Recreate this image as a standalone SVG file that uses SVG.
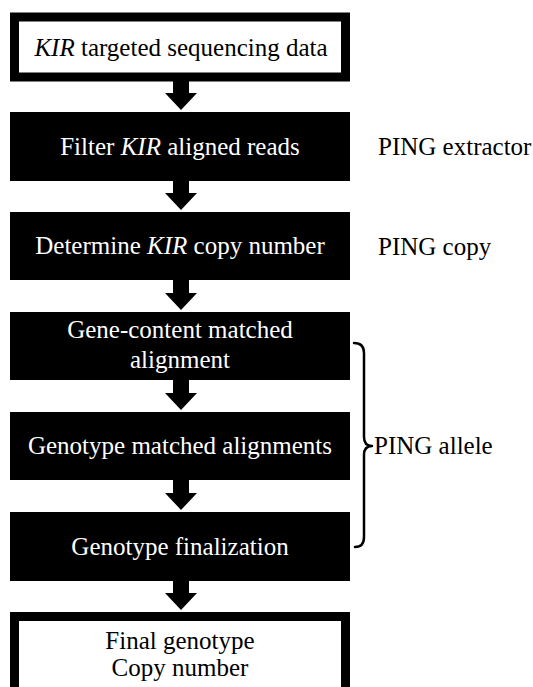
<svg xmlns="http://www.w3.org/2000/svg" width="533" height="687" viewBox="0 0 533 687">
<style>
text{font-size:25px}
.lt{fill:#fff;text-anchor:middle}
.dt{fill:#000;text-anchor:middle}
.side{fill:#000}
.blk{fill:#000}
.wbox{fill:#fff;stroke:#000;stroke-width:9}
.arr{fill:#000}
.brace{fill:none;stroke:#000;stroke-width:2.5;stroke-linecap:round;stroke-linejoin:round}
.it{font-style:italic}
</style>
<rect width="533" height="687" fill="#fff"/>
<g id="n1"><rect class="wbox" x="14.5" y="17" width="331" height="60"/><text class="dt" x="181" y="56" font-family="Liberation Serif"><tspan class="it">KIR</tspan> targeted sequencing data</text></g>
<g id="n2"><rect class="blk" x="10" y="112" width="340" height="69"/><text class="lt" x="180" y="155" font-family="Liberation Serif">Filter <tspan class="it">KIR</tspan> aligned reads</text></g>
<g id="n3"><rect class="blk" x="10" y="212" width="340" height="68"/><text class="lt" x="180" y="254" font-family="Liberation Serif">Determine <tspan class="it">KIR</tspan> copy number</text></g>
<g id="n4"><rect class="blk" x="10" y="312" width="340" height="68"/><text class="lt" x="180" y="338" font-family="Liberation Serif">Gene-content matched</text><text class="lt" x="180" y="368" font-family="Liberation Serif">alignment</text></g>
<g id="n5"><rect class="blk" x="10" y="412" width="340" height="68"/><text class="lt" x="180" y="454" font-family="Liberation Serif">Genotype matched alignments</text></g>
<g id="n6"><rect class="blk" x="10" y="512" width="340" height="69"/><text class="lt" x="180" y="555" font-family="Liberation Serif">Genotype finalization</text></g>
<g id="n7"><rect class="wbox" x="14.5" y="616.5" width="331" height="75"/><text class="dt" x="180" y="649" font-family="Liberation Serif">Final genotype</text><text class="dt" x="180" y="676" font-family="Liberation Serif">Copy number</text></g>
<g id="connectors">
<polygon class="arr" points="173,81 189,81 189,93 197,93 181,110 165,93 173,93"/>
<polygon class="arr" points="173,181 189,181 189,193 197,193 181,210 165,193 173,193"/>
<polygon class="arr" points="173,280 189,280 189,293 197,293 181,310 165,293 173,293"/>
<polygon class="arr" points="173,380 189,380 189,393 197,393 181,410 165,393 173,393"/>
<polygon class="arr" points="173,480 189,480 189,493 197,493 181,510 165,493 173,493"/>
<polygon class="arr" points="173,581 189,581 189,593 197,593 181,610 165,593 173,593"/>
</g>
<g id="labels">
<text class="side" x="378" y="155" font-family="Liberation Serif">PING extractor</text>
<text class="side" x="378" y="255" font-family="Liberation Serif">PING copy</text>
<path class="brace" d="M354,343 Q364,343 364,353 L364,437 Q364,446 372,446 Q364,446 364,455 L364,537 Q364,547 355,547"/>
<text class="side" x="374" y="454" font-family="Liberation Serif">PING allele</text>
</g>
</svg>
